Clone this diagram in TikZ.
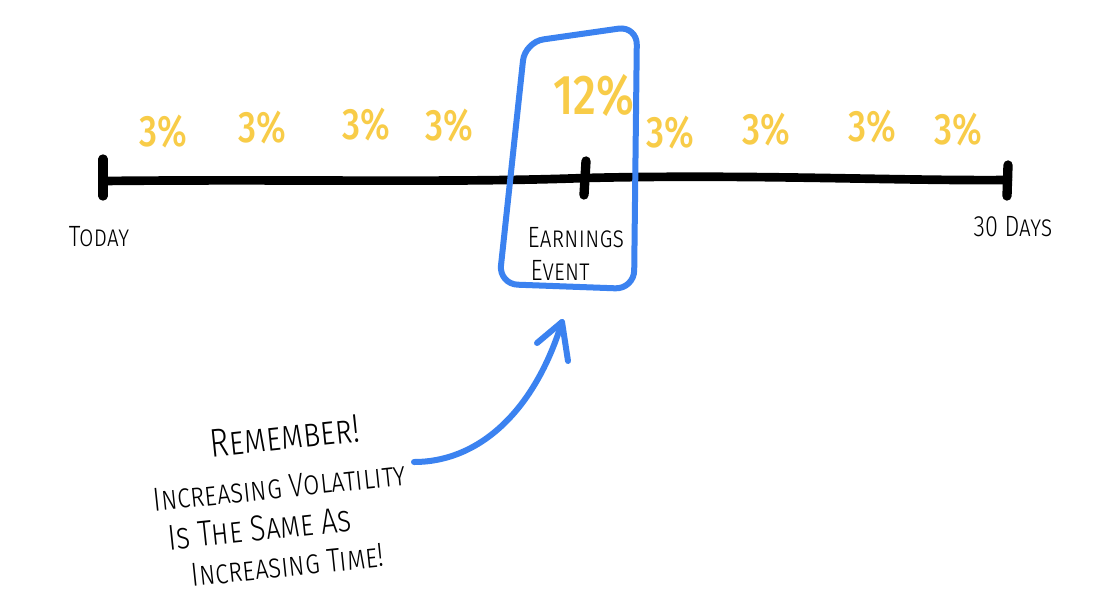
\documentclass[tikz,border=0pt]{standalone}
\usepackage{fontspec}
\newfontfamily\hand{Fira Sans Light}[Letters=SmallCaps, FakeStretch=0.8]
\newfontfamily\handnum{Fira Sans Medium}[FakeStretch=0.8]
\definecolor{penblue}{RGB}{59,130,240}
\definecolor{penyellow}{RGB}{248,204,72}
\tikzset{
  timeline/.style={line width=6.5, black, line cap=round, line join=round},
  tickmark/.style={line width=7, black, line cap=round},
  bluepen/.style={line width=4.5, penblue, line cap=round, line join=round},
  pct/.style={text=penyellow, font=\handnum\fontsize{33}{33}\selectfont, inner sep=0},
  bigpct/.style={text=penyellow, font=\handnum\fontsize{42}{42}\selectfont, inner sep=0},
  lbl/.style={font=\hand\fontsize{22}{22}\selectfont, inner sep=0},
  note/.style={font=\hand\fontsize{25}{30}\selectfont, inner sep=0, rotate=6, align=center},
}
\begin{document}
\begin{tikzpicture}[x=0.75pt,y=-0.75pt]
\useasboundingbox (0,0) rectangle (1104,608);
\fill[white] (0,0) rectangle (1104,608);
% timeline
\coordinate (t0) at (103,181);
\coordinate (t1) at (585,178);
\coordinate (t2) at (1008,180);
\draw[timeline] (t0) .. controls (300,179) and (450,183) .. (t1) .. controls (750,174) and (900,181) .. (t2);
\draw[tickmark] (103,159) -- (103,196);
\draw[tickmark] (586,161) -- (584,195);
\draw[tickmark] (1008,165) -- (1007,196);
% labels
\node[lbl] (today) at (99,237) {Today};
\node[lbl] (thirty) at (1013,227) {30 Days};
\node[lbl] (earn) at (576,238) {Earnings};
\node[lbl] (event) at (560,270) {Event};
% percentages
\node[pct] (p1) at (163,132) {3\%};
\node[pct] (p2) at (262,128) {3\%};
\node[pct] (p3) at (366,125) {3\%};
\node[pct] (p4) at (449,126) {3\%};
\node[bigpct] (p12) at (594,95) {12\%};
\node[pct] (p5) at (670,133) {3\%};
\node[pct] (p6) at (766,130) {3\%};
\node[pct] (p7) at (872,127) {3\%};
\node[pct] (p8) at (958,130) {3\%};
% box
\draw[bluepen, rounded corners=14] (525,42) -- (637,26) -- (634,289) -- (499,284) -- cycle;
% note
\node[note] (note) at (281,500)
  {\rule{16pt}{0pt}{\fontsize{30}{30}\selectfont Remember!}\\[6pt]
   Increasing Volatility\\
   {\fontsize{27}{30}\selectfont Is The Same As}\rule{36pt}{0pt}\\[-1pt]
   Increasing Time!};
\coordinate (arrstart) at (414,462);
\coordinate (tip) at (562,322);
\draw[bluepen] (arrstart) .. controls (480,462) and (535,410) .. (tip);
\draw[bluepen] (537,343) -- (tip) -- (568,361);
\end{tikzpicture}
\end{document}
